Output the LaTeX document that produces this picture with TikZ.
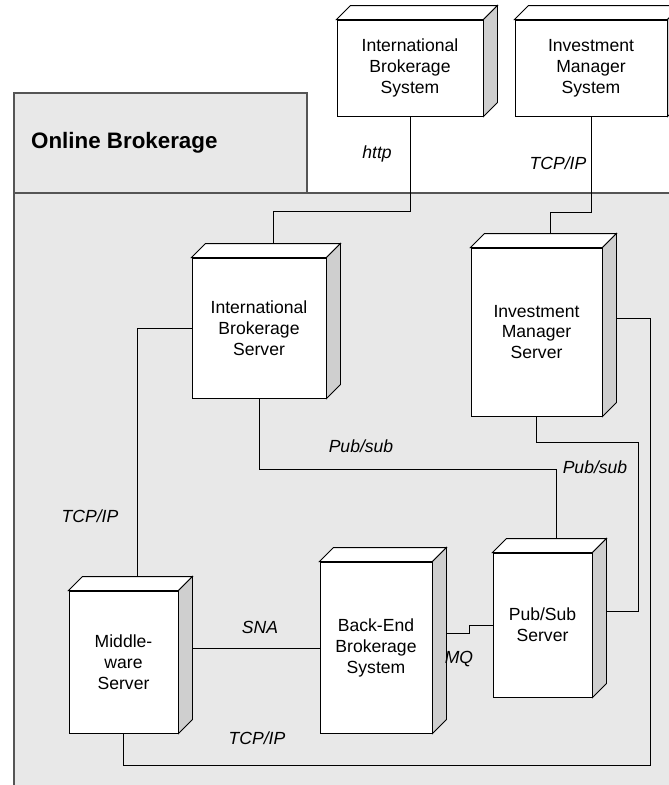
\documentclass[tikz,border=0pt]{standalone}
\usepackage{fontspec}
\setmainfont{Liberation Sans}
\usepackage{xcolor}
\usepackage{tikz}
\usetikzlibrary{calc}
\definecolor{pkgfill}{HTML}{E8E8E8}
\definecolor{pkgedge}{HTML}{555555}
\definecolor{sidegrey}{HTML}{CFCFCF}

\begin{document}
\begin{tikzpicture}[x=0.25mm,y=-0.25mm,line width=0.7pt,
  box/.style={draw,fill=white,align=center,inner sep=0pt,
              font=\fontsize{12.5}{14.9}\selectfont},
  lbl/.style={font=\fontsize{12.5}{14.9}\selectfont\itshape},
  conn/.style={draw,line width=0.6pt},
  pkg/.style={draw=pkgedge,line width=1.1pt},
]
\clip (0,0) rectangle (669,785);
\fill[white] (0,0) rectangle (669,785);

\fill[pkgfill] (14,193) rectangle (700,800);
\draw[pkg] (14,800) -- (14,193) -- (700,193);
\draw[pkg,fill=pkgfill] (14,193) rectangle (307,93);
\node[anchor=west,font=\fontsize{15.9}{18}\selectfont\bfseries] (pkgname) at (26,143) {Online Brokerage};

\node[box,minimum width=36.5mm,minimum height=24mm]   (ibs)   at (410,68)     {International\\Brokerage\\System};
\node[box,minimum width=38mm,minimum height=24mm]     (ims)   at (591,68)     {Investment\\Manager\\System};
\node[box,minimum width=33.5mm,minimum height=35mm]   (ibsrv) at (259,328)    {International\\Brokerage\\Server};
\node[box,minimum width=32.75mm,minimum height=42mm]  (imsrv) at (536.5,332)  {Investment\\Manager\\Server};
\node[box,minimum width=27.25mm,minimum height=35.5mm](mw)    at (123.5,662)  {Middle-\\ware\\Server};
\node[box,minimum width=28mm,minimum height=42.75mm]  (be)    at (376,647.5)  {Back-End\\Brokerage\\System};
\node[box,minimum width=24.75mm,minimum height=36mm]  (ps)    at (542.5,625)  {Pub/Sub\\Server};

\foreach \n in {ibs,ims,ibsrv,imsrv,mw,be,ps} {
  \draw[fill=white] (\n.north west) -- ++(14,-14) -- ($(\n.north east)+(14,-14)$) -- (\n.north east) -- cycle;
  \draw[fill=sidegrey] (\n.north east) -- ++(14,-14) -- ($(\n.south east)+(14,-14)$) -- (\n.south east) -- cycle;
  \coordinate (\n-top) at ($(\n.north)+(14,-14)$);
  \coordinate (\n-side) at ($(\n.east)+(14,-14)$);
}

\draw[conn] (ibs.south) -- ++(0,95) -| (ibsrv-top);
\draw[conn] (ims.south) -- ++(0,96) -| (imsrv-top);
\draw[conn] (ibsrv.west) -| (mw-top);
\draw[conn] (ibsrv.south) -- ++(0,71) -| (ps-top);
\draw[conn] (imsrv.south) -- ++(0,26) -- ++(101.5,0) |- (ps-side);
\draw[conn] (imsrv-side) -- ++(34,0) -- ++(0,447) -| (mw.south);
\draw[conn] (mw-side) -- (mw-side -| be.west);
\draw[conn] (be-side) -- ++(23,0) |- (ps.west);

\node[lbl] (l-http)   at (377,154) {http};
\node[lbl] (l-tcp1)   at (558,163) {TCP/IP};
\node[lbl] (l-tcp2)   at (90,516)  {TCP/IP};
\node[lbl] (l-pub1)   at (361,446) {Pub/sub};
\node[lbl] (l-pub2)   at (595,467) {Pub/sub};
\node[lbl] (l-sna)    at (260,627) {SNA};
\node[lbl] (l-mq)     at (459,659) {MQ};
\node[lbl] (l-tcp3)   at (257,738) {TCP/IP};
\end{tikzpicture}
\end{document}
